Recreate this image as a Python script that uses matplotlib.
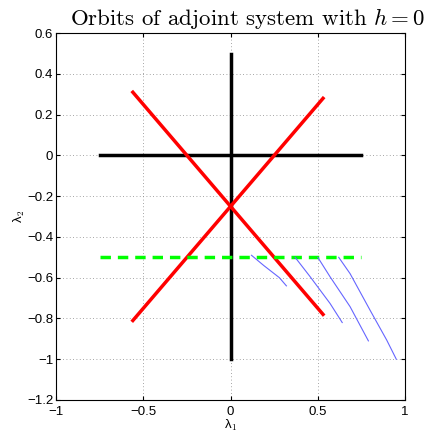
import numpy as np
import matplotlib.pyplot as plt

plt.rcParams['font.family'] = ['Liberation Sans', 'DejaVu Sans']
plt.rcParams['mathtext.fontset'] = 'cm'

# axis segments
hx = [-0.75, 0.75]
hy = [0, 0]
vx = [0, 0]
vy = [0.5, -1.0]

# red lines through (0, -0.25)
red1_x = [-0.56, 0.53]
red1_y = [0.31, -0.78]
red2_x = [-0.56, 0.53]
red2_y = [-0.81, 0.28]

# green dashed line
green_x = [-0.75, 0.75]
green_y = [-0.5, -0.5]

# blue orbits
orbits = [
    ([0.12, 0.19, 0.28, 0.32], [-0.49, -0.54, -0.60, -0.64]),
    ([0.37, 0.456, 0.57, 0.64], [-0.50, -0.595, -0.726, -0.82]),
    ([0.50, 0.57, 0.685, 0.79], [-0.50, -0.595, -0.742, -0.91]),
    ([0.62, 0.685, 0.80, 0.895, 0.95], [-0.50, -0.58, -0.76, -0.906, -1.0]),
]

xticks = [-1, -0.5, 0, 0.5, 1]
xticklabels = ['\u22121', '\u22120.5', '0', '0.5', '1']
yticks = [0.6, 0.4, 0.2, 0, -0.2, -0.4, -0.6, -0.8, -1, -1.2]
yticklabels = ['0.6', '0.4', '0.2', '0', '\u22120.2', '\u22120.4', '\u22120.6', '\u22120.8', '\u22121', '\u22121.2']

fig = plt.figure(figsize=(4.25, 4.36), dpi=100)
ax = fig.add_axes([0.132, 0.0826, 0.821, 0.8414])

ax.plot(hx, hy, color='black', lw=2.5)
ax.plot(vx, vy, color='black', lw=2.5)
ax.plot(red1_x, red1_y, color='red', lw=2.5)
ax.plot(red2_x, red2_y, color='red', lw=2.5)
ax.plot(green_x, green_y, color='#00ff00', lw=2.5, linestyle=(0, (3, 2)))
for ox, oy in orbits:
    ax.plot(ox, oy, color='#6666ff', lw=0.8)

ax.set_xlim(-1, 1)
ax.set_ylim(-1.2, 0.6)
ax.set_xticks(xticks)
ax.set_xticklabels(xticklabels)
ax.set_yticks(yticks)
ax.set_yticklabels(yticklabels)
ax.tick_params(direction='in', top=True, right=True, labelsize=9.5, length=3, pad=2)
ax.tick_params(axis='x', pad=4)
ax.grid(True, linestyle=(0, (1, 3)), color='#888888', lw=0.6)
for s in ax.spines.values():
    s.set_linewidth(0.8)

ax.set_xlabel('\u03bb$_1$', fontsize=9.5, labelpad=0)
ax.set_ylabel('\u03bb$_2$', fontsize=9.5, labelpad=0)

fig.text(0.165, 0.943, r'Orbits of adjoint system with $h = 0$', fontsize=16.5,
         fontname='cmr10', ha='left', va='baseline')

fig.savefig('out.png', dpi=100)
